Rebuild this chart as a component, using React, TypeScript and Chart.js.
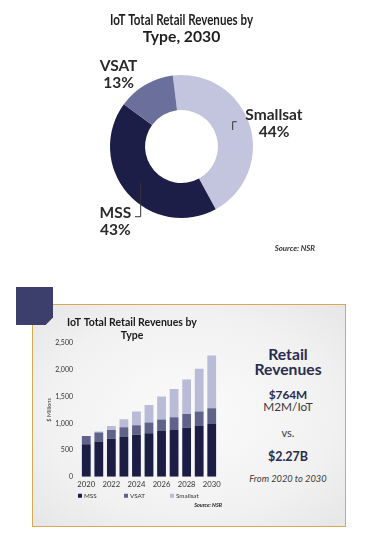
import React, { useEffect, useRef } from 'react';
import { Chart, registerables } from 'chart.js';

Chart.register(...registerables);

// ---------- data ----------
const shareLabels = ['Smallsat', 'MSS', 'VSAT'];
const shareValues = [44, 43, 13];

const years = ['2020', '2021', '2022', '2023', '2024', '2025', '2026', '2027', '2028', '2029', '2030'];
const mssValues = [610, 660, 710, 745, 785, 815, 855, 875, 915, 950, 985];
const vsatValues = [154, 170, 165, 180, 180, 200, 215, 240, 260, 270, 295];
const smallsatValues = [0, 15, 75, 150, 255, 330, 430, 525, 645, 800, 990];
const seriesNames = ['MSS', 'VSAT', 'Smallsat'];
const yTickStep = 500;
const yMax = 2500;

// ---------- styles ----------
const FONT = 'Lato, "Open Sans", sans-serif';
const DOUGHNUT_COLORS = ['#c3c5df', '#1c1e47', '#6b6f9b'];
const BAR_COLORS = ['#1b1d45', '#5f6389', '#b9bbd7'];
// label anchors relative to the doughnut centre, in outer-radius units
const LABEL_ANCHORS = [
  [1.294, -0.322],
  [-0.926, 1.042],
  [-0.881, -1.007],
];

const doughnutDecor = {
  id: 'doughnutDecor',
  afterDraw(chart: any) {
    const arc = chart.getDatasetMeta(0).data[0];
    if (!arc) return;
    const { x: cx, y: cy, outerRadius: R } = arc.getProps(['x', 'y', 'outerRadius'], true);
    const ctx = chart.ctx;
    ctx.save();
    ctx.fillStyle = '#2a2a2a';
    ctx.textAlign = 'center';
    ctx.textBaseline = 'middle';
    ctx.font = `bold 15.5px ${FONT}`;
    chart.data.labels.forEach((lab: string, i: number) => {
      const [ax, ay] = LABEL_ANCHORS[i];
      const x = cx + ax * R;
      const y = cy + ay * R;
      ctx.fillText(lab, x, y - 8.5);
      ctx.fillText(chart.data.datasets[0].data[i] + '%', x, y + 8.5);
    });
    ctx.strokeStyle = '#333';
    ctx.lineWidth = 1;
    ctx.beginPath();
    ctx.moveTo(cx + 0.772 * R, cy - 0.347 * R);
    ctx.lineTo(cx + 0.716 * R, cy - 0.347 * R);
    ctx.lineTo(cx + 0.716 * R, cy - 0.231 * R);
    ctx.moveTo(cx - 0.571 * R, cy + 0.51 * R);
    ctx.lineTo(cx - 0.571 * R, cy + 0.982 * R);
    ctx.lineTo(cx - 0.65 * R, cy + 0.982 * R);
    ctx.stroke();
    ctx.font = `italic bold 7.8px ${FONT}`;
    ctx.textAlign = 'right';
    ctx.fillStyle = '#333';
    ctx.fillText('Source: NSR', cx + 1.867 * R, cy + 1.42 * R);
    ctx.restore();
  },
};

const barDecor = {
  id: 'barDecor',
  afterDraw(chart: any) {
    const { left, right, bottom } = chart.chartArea;
    const w = right - left;
    const ctx = chart.ctx;
    ctx.save();
    ctx.textBaseline = 'middle';
    ctx.textAlign = 'left';
    ctx.font = `6.3px ${FONT}`;
    chart.data.datasets.forEach((ds: any, i: number) => {
      const x = left - 2 + (i * w) / 3;
      const y = bottom + 19;
      ctx.fillStyle = ds.backgroundColor;
      ctx.fillRect(x, y - 2, 4, 4);
      ctx.fillStyle = '#333';
      ctx.fillText(ds.label, x + 6, y);
    });
    ctx.font = `italic bold 5.4px ${FONT}`;
    ctx.textAlign = 'right';
    ctx.fillStyle = '#222';
    ctx.fillText('Source: NSR', right + 4, bottom + 29);
    ctx.restore();
  },
};

function DoughnutChart() {
  const ref = useRef<HTMLCanvasElement>(null);
  useEffect(() => {
    const chart = new Chart(ref.current as HTMLCanvasElement, {
      type: 'doughnut',
      data: {
        labels: shareLabels,
        datasets: [
          {
            data: shareValues,
            backgroundColor: DOUGHNUT_COLORS,
            borderWidth: 0,
          },
        ],
      },
      options: {
        animation: false,
        responsive: false,
        rotation: -7,
        cutout: '51%',
        layout: { padding: { left: 110, right: 124, top: 0, bottom: 42 } },
        plugins: {
          legend: { display: false },
          tooltip: { enabled: false },
          title: {
            display: true,
            text: ['IoT Total Retail Revenues by', 'Type, 2030'],
            color: '#1e1e1e',
            font: { family: FONT, weight: 'bold', size: 15.7, lineHeight: 1.1 },
            padding: { top: 11.4, bottom: 29.1 },
          },
        },
      } as any,
      plugins: [doughnutDecor],
    });
    return () => chart.destroy();
  }, []);
  return (
    <canvas
      ref={ref}
      width={377}
      height={260}
      style={{ position: 'absolute', left: 0, top: 0, width: 377, height: 260 }}
    />
  );
}

function BarChart() {
  const ref = useRef<HTMLCanvasElement>(null);
  useEffect(() => {
    const values = [mssValues, vsatValues, smallsatValues];
    const chart = new Chart(ref.current as HTMLCanvasElement, {
      type: 'bar',
      data: {
        labels: years,
        datasets: seriesNames.map((name, i) => ({
          label: name,
          data: values[i],
          backgroundColor: BAR_COLORS[i],
          categoryPercentage: 1,
          barPercentage: 0.7,
        })),
      },
      options: {
        animation: false,
        responsive: false,
        layout: { padding: { left: 14, right: 12, top: 0, bottom: 35 } },
        plugins: {
          legend: { display: false },
          tooltip: { enabled: false },
          title: {
            display: true,
            text: ['IoT Total Retail Revenues by', 'Type'],
            color: '#1a1a1a',
            font: { family: FONT, weight: 'bold', size: 10.5, lineHeight: 1.15 },
            padding: { top: 13, bottom: 2 },
          },
        },
        scales: {
          x: {
            stacked: true,
            grid: { display: false, drawTicks: false },
            border: { display: false },
            ticks: {
              padding: 3,
              autoSkip: false,
              maxRotation: 0,
              color: '#333',
              font: { family: FONT, size: 7.7 },
              callback: (_v: any, i: number) => (i % 2 === 0 ? years[i] : ''),
            },
          },
          y: {
            stacked: true,
            min: 0,
            max: yMax,
            grid: { display: false, drawTicks: false },
            border: { display: false },
            ticks: {
              stepSize: yTickStep,
              padding: 7,
              color: '#333',
              font: { family: FONT, size: 7 },
              callback: (v: any) => Number(v).toLocaleString('en-US'),
            },
            title: {
              display: true,
              text: '$ Millions',
              color: '#333',
              font: { family: FONT, size: 5.5 },
              padding: { top: 0, bottom: 0 },
            },
            afterFit: (s: any) => {
              s.width = 34;
            },
          },
        },
      } as any,
      plugins: [barDecor],
    });
    return () => chart.destroy();
  }, []);
  return (
    <canvas
      ref={ref}
      width={198}
      height={223}
      style={{ position: 'absolute', left: 32, top: 304, width: 198, height: 223 }}
    />
  );
}

const textBase: React.CSSProperties = {
  position: 'absolute',
  left: 230,
  width: 116,
  textAlign: 'center',
  lineHeight: 1,
  fontFamily: FONT,
  whiteSpace: 'nowrap',
};

export default function App() {
  return (
    <div
      style={{
        position: 'absolute',
        left: 0,
        top: 0,
        width: 377,
        height: 542,
        background: '#ffffff',
        overflow: 'hidden',
      }}
    >
      <DoughnutChart />
      <div
        style={{
          position: 'absolute',
          left: 32,
          top: 304,
          width: 314,
          height: 223,
          boxSizing: 'border-box',
          border: '1.5px solid #d5aa50',
          background: 'radial-gradient(ellipse at 50% 50%, #fbfbfb 0%, #f1f1f1 65%, #e6e6e6 100%)',
        }}
      />
      <div
        style={{
          position: 'absolute',
          left: 16,
          top: 287,
          width: 37,
          height: 38,
          background: '#3c3f6c',
          clipPath: 'polygon(0 0, 100% 0, 100% 80%, 80% 100%, 0 100%)',
        }}
      />
      <BarChart />
      <div style={{ ...textBase, top: 346.7, fontSize: 15.7, fontWeight: 700, color: '#2a2c4f' }}>Retail</div>
      <div style={{ ...textBase, top: 362.4, fontSize: 15.7, fontWeight: 700, color: '#2a2c4f' }}>Revenues</div>
      <div style={{ ...textBase, top: 388.8, fontSize: 11.8, fontWeight: 700, color: '#2a2c4f' }}>$764M</div>
      <div style={{ ...textBase, top: 401.3, fontSize: 11.8, fontWeight: 400, color: '#3a3a3a' }}>M2M/IoT</div>
      <div style={{ ...textBase, top: 427, fontSize: 11, fontWeight: 400, color: '#3a3a3a' }}>vs.</div>
      <div style={{ ...textBase, top: 451.4, fontSize: 12.5, fontWeight: 700, color: '#2a2c4f' }}>$2.27B</div>
      <div style={{ ...textBase, top: 474, fontSize: 9.3, fontStyle: 'italic', color: '#3a3a3a' }}>From 2020 to 2030</div>
    </div>
  );
}
